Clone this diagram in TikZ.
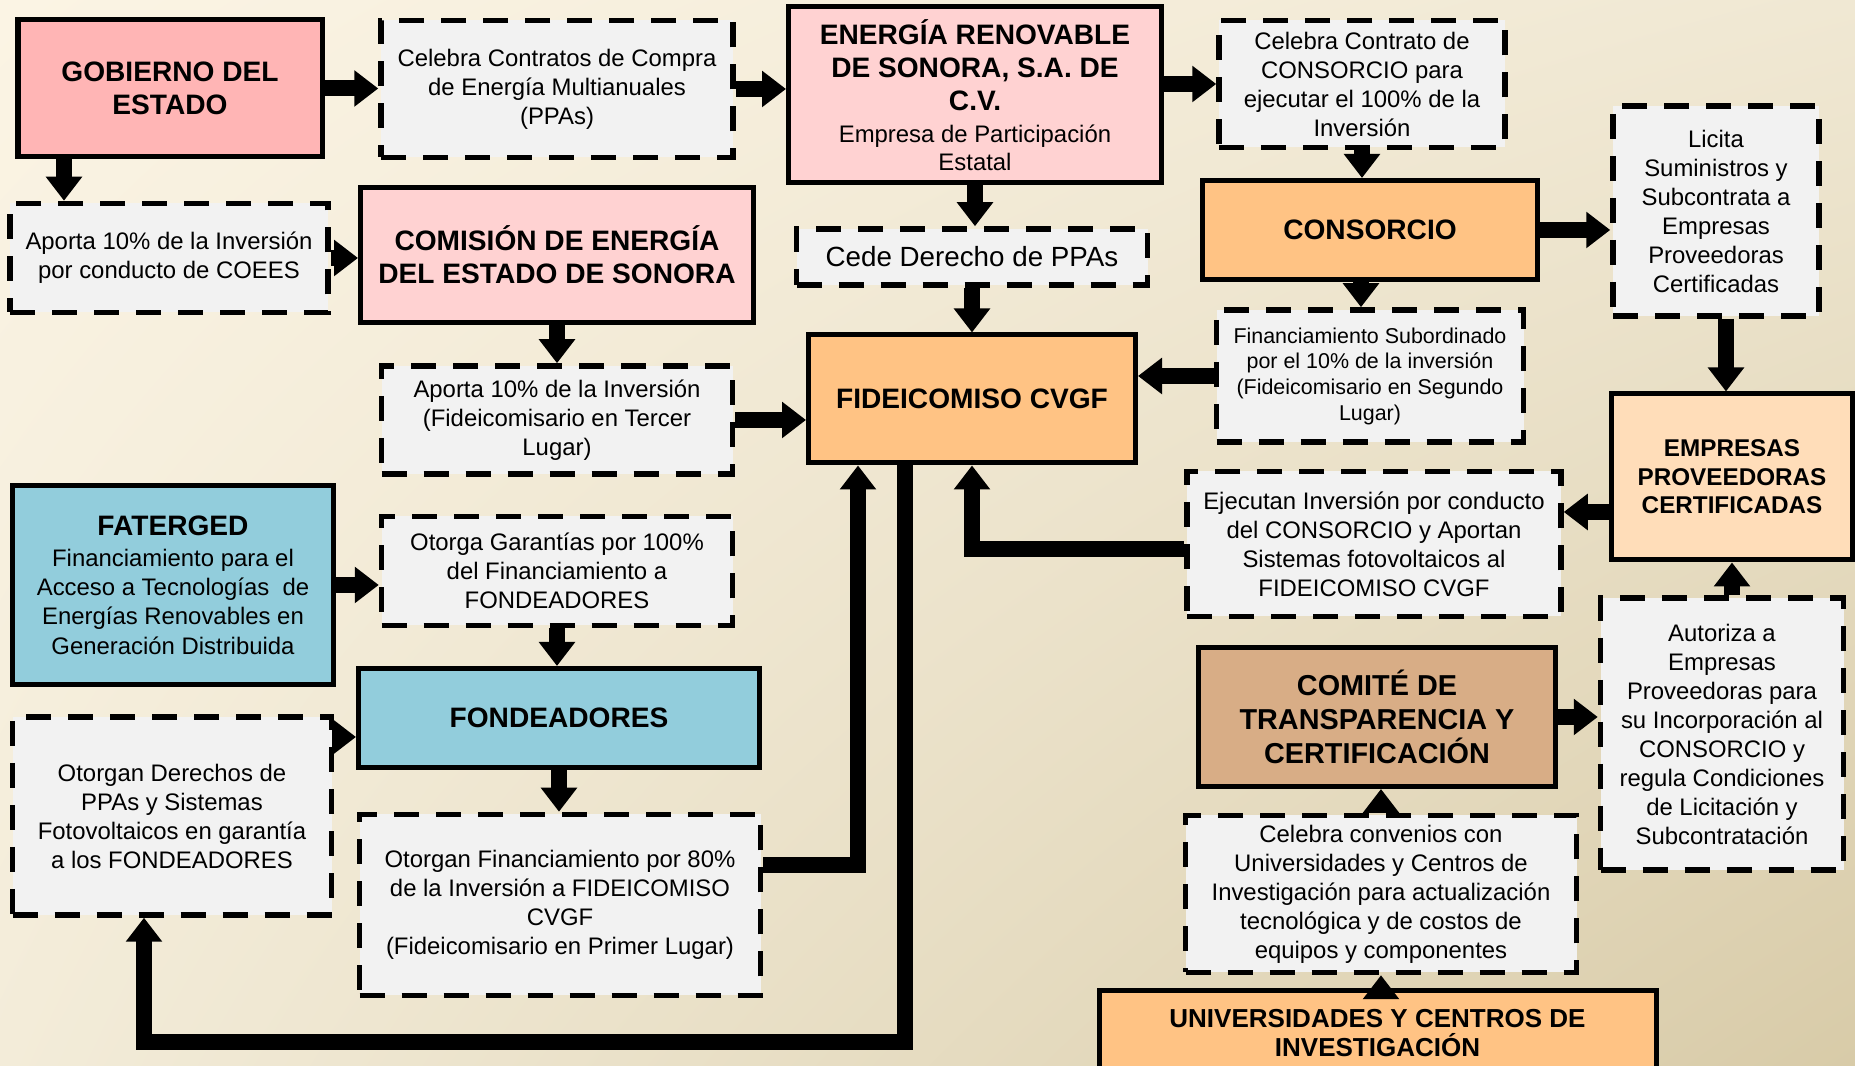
\documentclass[tikz,border=0pt]{standalone}
\usepackage{fontspec}
\setmainfont{Liberation Sans}
\usetikzlibrary{arrows.meta,shadings}

\definecolor{pinkA}{HTML}{FFB5B5}
\definecolor{pinkB}{HTML}{FFD2D2}
\definecolor{orangeA}{HTML}{FFC384}
\definecolor{orangeB}{HTML}{FFDDB9}
\definecolor{blueA}{HTML}{92CDDC}
\definecolor{tanA}{HTML}{D8AD86}
\definecolor{notegray}{HTML}{F2F2F2}
\definecolor{bgTL}{HTML}{FBF4E4}
\definecolor{bgTR}{HTML}{F0E8D3}
\definecolor{bgBL}{HTML}{F3ECD9}
\definecolor{bgBR}{HTML}{D8CBA8}

\begin{document}
\begin{tikzpicture}
  \tikzstyle{box}=[draw=black,line width=0.05cm,align=center,inner sep=0pt,font=\fontsize{8}{9.5}\selectfont\bfseries]
  \tikzstyle{note}=[draw=black,fill=notegray,line width=0.055cm,dash pattern=on 0.25cm off 0.17cm,align=center,inner sep=0pt,font=\fontsize{6.8}{8.25}\selectfont]
  \tikzstyle{arr}=[line width=0.16cm,-{Triangle[width=0.35cm,length=0.24cm]}]

  \useasboundingbox (0,0) rectangle (18.55,10.66);
  \clip (0,0) rectangle (18.55,10.66);
  \shade[upper left=bgTL,upper right=bgTR,lower left=bgBL,lower right=bgBR] (0,0) rectangle (18.55,10.66);

  % left column
  \node[box,fill=pinkA,minimum width=3.04cm,minimum height=1.37cm] (gob) at (1.70,9.775) {GOBIERNO DEL\\ESTADO};
  \node[note,minimum width=3.18cm,minimum height=1.09cm] (coees) at (1.69,8.08) {Aporta 10\% de la Inversión\\por conducto de COEES};
  \node[box,fill=blueA,minimum width=3.20cm,minimum height=1.99cm] (fat) at (1.73,4.81)
    {FATERGED\\[-0.6pt]{\mdseries\fontsize{6.8}{8.25}\selectfont Financiamiento para el}\\[-1.2pt]{\mdseries\fontsize{6.8}{8.25}\selectfont Acceso a Tecnologías~ de}\\[-1.2pt]{\mdseries\fontsize{6.8}{8.25}\selectfont Energías Renovables en}\\[-1.2pt]{\mdseries\fontsize{6.8}{8.25}\selectfont Generación Distribuida}};
  \node[note,minimum width=3.19cm,minimum height=1.98cm] (der) at (1.72,2.50) {Otorgan Derechos de\\PPAs y Sistemas\\Fotovoltaicos en garantía\\a los FONDEADORES};

  % second column
  \node[note,minimum width=3.52cm,minimum height=1.37cm] (ppa) at (5.57,9.77) {Celebra Contratos de Compra\\de Energía Multianuales\\(PPAs)};
  \node[box,fill=pinkB,minimum width=3.93cm,minimum height=1.35cm] (comision) at (5.57,8.11) {COMISIÓN DE ENERGÍA\\DEL ESTADO DE SONORA};
  \node[note,minimum width=3.51cm,minimum height=1.08cm] (ap3) at (5.57,6.46) {Aporta 10\% de la Inversión\\(Fideicomisario en Tercer\\Lugar)};
  \node[note,minimum width=3.51cm,minimum height=1.09cm] (otorga) at (5.57,4.95) {Otorga Garantías por 100\%\\del Financiamiento a\\FONDEADORES};
  \node[box,fill=blueA,minimum width=4.01cm,minimum height=0.99cm] (fond) at (5.59,3.48) {FONDEADORES};
  \node[note,minimum width=4.01cm,minimum height=1.81cm] (fin80) at (5.60,1.61) {Otorgan Financiamiento por 80\%\\de la Inversión a FIDEICOMISO\\CVGF\\(Fideicomisario en Primer Lugar)};

  % centre column
  \node[box,fill=pinkB,minimum width=3.73cm,minimum height=1.76cm] (ener) at (9.75,9.71)
    {ENERGÍA RENOVABLE\\DE SONORA, S.A. DE\\C.V.\\[-0.6pt]{\mdseries\fontsize{6.8}{8.25}\selectfont Empresa de Participación}\\[-1.4pt]{\mdseries\fontsize{6.8}{8.25}\selectfont Estatal}};
  \node[note,minimum width=3.51cm,minimum height=0.56cm,font=\fontsize{7.9}{9.4}\selectfont] (cede) at (9.72,8.09) {Cede Derecho de PPAs};
  \node[box,fill=orangeA,minimum width=3.27cm,minimum height=1.28cm] (fid) at (9.72,6.67) {FIDEICOMISO CVGF};

  % right part
  \node[note,minimum width=2.86cm,minimum height=1.27cm] (cont) at (13.62,9.82) {Celebra Contrato de\\CONSORCIO para\\ejecutar el 100\% de la\\Inversión};
  \node[box,fill=orangeA,minimum width=3.35cm,minimum height=0.99cm] (consorcio) at (13.70,8.36) {CONSORCIO};
  \node[note,minimum width=3.07cm,minimum height=1.32cm,font=\fontsize{6.1}{7.3}\selectfont] (finsub) at (13.70,6.90) {Financiamiento Subordinado\\por el 10\% de la inversión\\(Fideicomisario en Segundo\\Lugar)};
  \node[note,minimum width=3.74cm,minimum height=1.45cm] (ejec) at (13.74,5.22) {Ejecutan Inversión por conducto\\del CONSORCIO y Aportan\\Sistemas fotovoltaicos al\\FIDEICOMISO CVGF};
  \node[box,fill=tanA,minimum width=3.57cm,minimum height=1.39cm,font=\fontsize{8.2}{9.7}\selectfont\bfseries] (comite) at (13.77,3.49) {COMITÉ DE\\TRANSPARENCIA Y\\CERTIFICACIÓN};
  \node[note,minimum width=3.91cm,minimum height=1.57cm] (conv) at (13.81,1.72) {Celebra convenios con\\Universidades y Centros de\\Investigación para actualización\\tecnológica y de costos de\\equipos y componentes};
  \node[box,fill=orangeA,minimum width=5.57cm,minimum height=0.84cm,font=\fontsize{7.4}{8.4}\selectfont\bfseries] (univ) at (13.775,0.33) {UNIVERSIDADES Y CENTROS DE\\INVESTIGACIÓN};

  \node[note,minimum width=2.06cm,minimum height=2.10cm] (licita) at (17.16,8.55) {Licita\\Suministros y\\Subcontrata a\\Empresas\\Proveedoras\\Certificadas};
  \node[box,fill=orangeB,minimum width=2.41cm,minimum height=1.66cm,font=\fontsize{6.9}{8.1}\selectfont\bfseries] (emp) at (17.32,5.89) {EMPRESAS\\PROVEEDORAS\\CERTIFICADAS};
  \node[note,minimum width=2.43cm,minimum height=2.72cm] (aut) at (17.22,3.32) {Autoriza a\\Empresas\\Proveedoras para\\su Incorporación al\\CONSORCIO y\\regula Condiciones\\de Licitación y\\Subcontratación};

  % straight arrows to the right
  \foreach \from/\to in {gob/ppa, ppa/ener, coees/comision, ap3/fid, fat/otorga, consorcio/licita, comite/aut}
    \draw[arr] (\from.east) -- (\from.east -| \to.west);

  % straight arrows downwards
  \foreach \from/\to in {ener/cede, cede/fid, comision/ap3, otorga/fond, fond/fin80, cont/consorcio}
    \draw[arr] (\from.south) -- (\from.south |- \to.north);

  \draw[arr] (cont.west -| ener.east) -- (cont.west);
  \draw[arr] ([xshift=-1.06cm]gob.south) -- ([xshift=-1.06cm]gob.south |- coees.north);
  \draw[arr] ([xshift=-.09cm]consorcio.south) -- ([xshift=-.09cm]consorcio.south |- finsub.north);
  \draw[arr] (finsub.west) -- (finsub.west -| fid.east);
  \draw[arr] ([xshift=.1cm]licita.south) -- ([xshift=.1cm]licita.south |- emp.north);
  \draw[arr] ([yshift=-.35cm]emp.west) -- ([yshift=-.35cm]emp.west -| ejec.east);
  \draw[arr] ([yshift=-.05cm]ejec.west) -| (fid.south);
  \draw[arr] (emp.south |- aut.north) -- (emp.south);
  \draw[arr] (conv.north) -- (conv.north |- comite.south);
  \draw[arr] (conv.south |- univ.north) -- (conv.south);
  \draw[arr] ([yshift=-.19cm]fond.west -| der.east) -- ([yshift=-.19cm]fond.west);

  % long return lines
  \draw[arr] ([yshift=.4cm]fin80.east) -| ([xshift=-1.14cm]fid.south);
  \draw[arr] ([xshift=-.67cm]fid.south) -- ++(0,-5.77) -| ([xshift=-.28cm]der.south);
\end{tikzpicture}
\end{document}
